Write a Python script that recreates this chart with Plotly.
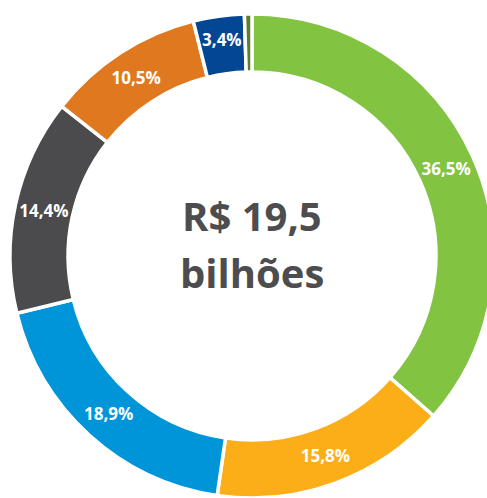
import plotly.graph_objects as go

# fatias no sentido horário a partir do topo
segmentos = ['Seg A', 'Seg B', 'Seg C', 'Seg D', 'Seg E', 'Seg F', 'Outros']
participacao = [36.5, 15.8, 18.9, 14.4, 10.5, 3.4, 0.5]
rotulos = ['36,5%', '15,8%', '18,9%', '14,4%', '10,5%', '3,4%', '']
cores = ['#82C341', '#FBAE17', '#0095D9', '#4B4B4D', '#DF781E', '#034694', '#5B7F2E']

total_texto = ['R$ 19,5', 'bilhões']

fig = go.Figure()

fig.add_trace(go.Pie(
    labels=segmentos,
    values=participacao,
    text=rotulos,
    textinfo='text',
    textposition='inside',
    insidetextorientation='horizontal',
    textfont=dict(family='Open Sans', size=17, color='white', weight='bold'),
    marker=dict(colors=cores, line=dict(color='white', width=3.5)),
    hole=0.76,
    sort=False,
    direction='clockwise',
    rotation=0,
    showlegend=False,
    domain=dict(x=[0.006, 1.0], y=[0.0, 0.972]),
))

# texto central em duas linhas
fig.add_annotation(x=0.503, y=0.567, xref='paper', yref='paper', text=total_texto[0],
                   showarrow=False, font=dict(family='Open Sans', size=40, color='#4D4D4F', weight='bold'))
fig.add_annotation(x=0.503, y=0.452, xref='paper', yref='paper', text=total_texto[1],
                   showarrow=False, font=dict(family='Open Sans', size=40, color='#4D4D4F', weight='bold'))

fig.update_layout(
    width=501,
    height=498,
    margin=dict(l=0, r=0, t=0, b=0),
    paper_bgcolor='white',
    plot_bgcolor='white',
)

fig.write_html("out.html", config={'displayModeBar': False},
               post_script="document.body.style.margin='0';document.body.style.overflow='hidden';"
                           "document.documentElement.style.overflow='hidden';")
